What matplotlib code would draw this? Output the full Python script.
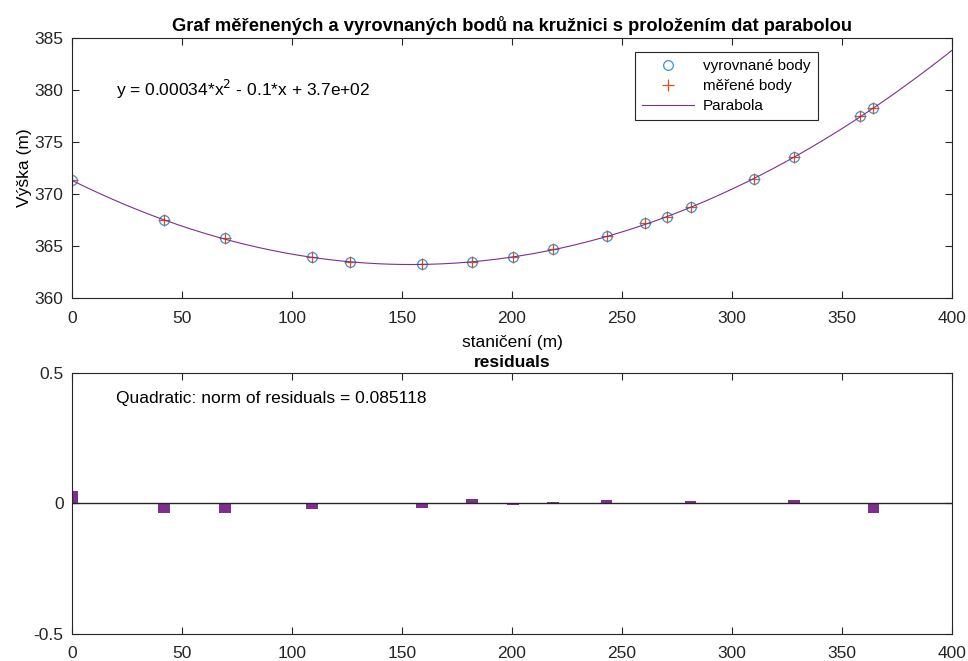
import numpy as np
import matplotlib.pyplot as plt

plt.rcParams['font.family'] = ['Liberation Sans', 'DejaVu Sans']

# staničení bodů (m)
stanice = [0.0, 41.8, 69.5, 109.1, 126.2, 159.1, 181.8, 200.5, 218.7,
           243.0, 260.3, 270.3, 281.2, 309.9, 328.2, 358.2, 364.3]
# vyrovnané výšky na kružnici (m)
vyska_vyrovnana = [371.33, 367.49, 365.73, 363.96, 363.48, 363.26, 363.48, 363.96, 364.67,
                   365.95, 367.17, 367.81, 368.71, 371.43, 373.51, 377.45, 378.22]
# měřené výšky (m)
vyska_merena = [371.33, 367.49, 365.73, 363.96, 363.48, 363.26, 363.48, 363.96, 364.67,
                365.95, 367.17, 367.81, 368.71, 371.43, 373.51, 377.45, 378.22]
# koeficienty paraboly (a, b, c)
koef = [0.00034, -0.1048, 371.3]
# rezidua proložení
rezidua = [0.046, -0.036, -0.036, -0.022, 0.001, -0.019, 0.017, -0.005, 0.004,
           0.011, 0.002, 0.003, 0.008, 0.003, 0.011, 0.0, -0.036]
norma = 0.085118

c_kruh = '#3B93D3'
c_plus = '#D95319'
c_fial = '#7E2F8E'
c_os = '#262626'

fig = plt.figure(figsize=(9.68, 6.61), dpi=100)
ax1 = fig.add_axes([0.0744, 0.549, 0.909, 0.394])
ax2 = fig.add_axes([0.0744, 0.041, 0.909, 0.395])

xx = np.linspace(0, 400, 400)
ax1.plot(stanice, vyska_vyrovnana, 'o', mfc='none', mec=c_kruh, ms=7, mew=0.9,
         label='vyrovnané body')
ax1.plot(stanice, vyska_merena, '+', color=c_plus, ms=8, mew=0.9, label='měřené body')
ax1.plot(xx, np.polyval(koef, xx), '-', color=c_fial, lw=0.8, label='Parabola')

ax1.set_xlim(0, 400)
ax1.set_ylim(360, 385)
ax1.set_yticks([360, 365, 370, 375, 380, 385])
ax1.set_xticks(np.arange(0, 401, 50))
ax1.set_title('Graf měřenených a vyrovnaných bodů na kružnici s proložením dat parabolou',
              fontsize=13.2, fontweight='bold', pad=5)
ax1.set_xlabel('staničení (m)', fontsize=12.5, labelpad=7)
ax1.set_ylabel('Výška (m)', fontsize=12.5, labelpad=2)

ax1.text(20, 380, 'y = %.2g*x$^{2}$ - %.2g*x + %.1e' % (koef[0], -koef[1], koef[2]),
         fontsize=12.5, va='center', ha='left', color='black')

leg = ax1.legend(loc='upper left', bbox_to_anchor=(0.64, 0.945), borderaxespad=0,
                 fontsize=11, fancybox=False, framealpha=1, edgecolor=c_os,
                 borderpad=0.45, labelspacing=0.4, handlelength=3.4, handletextpad=0.6)
leg.get_frame().set_linewidth(0.8)

ax2.bar(stanice, rezidua, width=5.2, color=c_fial)
ax2.axhline(0, color=c_os, lw=1.0)
ax2.set_xlim(0, 400)
ax2.set_ylim(-0.5, 0.5)
ax2.set_yticks([-0.5, 0, 0.5])
ax2.set_yticklabels(['-0.5', '0', '0.5'])
ax2.set_xticks(np.arange(0, 401, 50))
ax2.set_title('residuals', fontsize=12.5, fontweight='bold', pad=4)
ax2.text(20, 0.4, 'Quadratic: norm of residuals = %.6f' % norma,
         fontsize=12.5, va='center', ha='left')

for ax in (ax1, ax2):
    ax.tick_params(direction='in', length=5, width=0.8, top=True, right=True,
                   labelsize=12.5, colors=c_os)
    ax.tick_params(axis='x', pad=9)
    ax.tick_params(axis='y', pad=6)
    for s in ax.spines.values():
        s.set_color(c_os)
        s.set_linewidth(0.8)

fig.savefig('out.png', dpi=100)
